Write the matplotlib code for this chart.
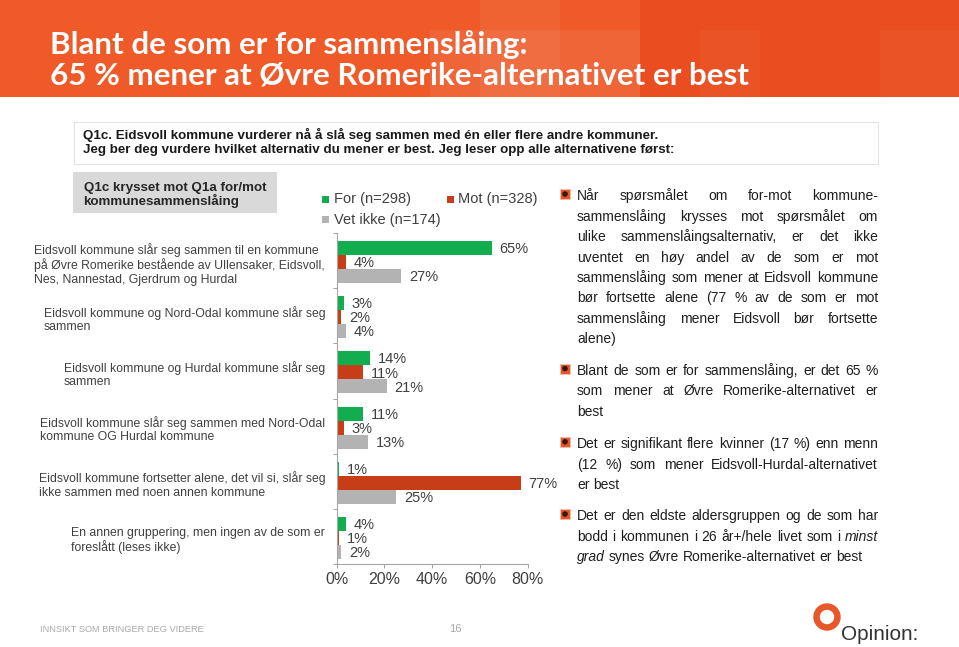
import matplotlib
matplotlib.use('Agg')
import matplotlib.pyplot as plt
from matplotlib.patches import Rectangle, Ellipse
import numpy as np

plt.rcParams['font.family'] = ['Liberation Sans', 'DejaVu Sans']

# ---------------- data ----------------
categories = [
    "Eidsvoll kommune slår seg sammen til en kommune\npå Øvre Romerike bestående av Ullensaker, Eidsvoll,\nNes, Nannestad, Gjerdrum og Hurdal",
    "Eidsvoll kommune og Nord-Odal kommune slår seg\nsammen",
    "Eidsvoll kommune og Hurdal kommune slår seg\nsammen",
    "Eidsvoll kommune slår seg sammen med Nord-Odal\nkommune OG Hurdal kommune",
    "Eidsvoll kommune fortsetter alene, det vil si, slår seg\nikke sammen med noen annen kommune",
    "En annen gruppering, men ingen av de som er\nforeslått (leses ikke)",
]
for_vals = [65, 3, 14, 11, 1, 4]
mot_vals = [4, 2, 11, 3, 77, 1]
vet_vals = [27, 4, 21, 13, 25, 2]
series_names = ["For (n=298)", "Mot (n=328)", "Vet ikke (n=174)"]
xtick_vals = [0, 20, 40, 60, 80]
xtick_labels = ["0%", "20%", "40%", "60%", "80%"]

title_lines = ["Blant de som er for sammenslåing:",
               "65 % mener at Øvre Romerike-alternativet er best"]
question_lines = ["Q1c. Eidsvoll kommune vurderer nå å slå seg sammen med én eller flere andre kommuner.",
                  "Jeg ber deg vurdere hvilket alternativ du mener er best. Jeg leser opp alle alternativene først:"]
box_lines = ["Q1c krysset mot Q1a for/mot", "kommunesammenslåing"]
bullets = [
    ["Når spørsmålet om for-mot kommune-",
     "sammenslåing krysses mot spørsmålet om",
     "ulike sammenslåingsalternativ, er det ikke",
     "uventet en høy andel av de som er mot",
     "sammenslåing som mener at Eidsvoll kommune",
     "bør fortsette alene (77 % av de som er mot",
     "sammenslåing mener Eidsvoll bør fortsette",
     "alene)"],
    ["Blant de som er for sammenslåing, er det 65 %",
     "som mener at Øvre Romerike-alternativet er",
     "best"],
    ["Det er signifikant flere kvinner (17 %) enn menn",
     "(12 %) som mener Eidsvoll-Hurdal-alternativet",
     "er best"],
    ["Det er den eldste aldersgruppen og de som har",
     "bodd i kommunen i 26 år+/hele livet som i *minst*",
     "*grad* synes Øvre Romerike-alternativet er best"],
]
footer_text = "INNSIKT SOM BRINGER DEG VIDERE"
page_no = "16"

# ---------------- styles ----------------
C_FOR, C_MOT, C_VET = "#12AD4F", "#C63D17", "#B3B3B3"
TXT = "#404040"
W, H = 959, 647
fig = plt.figure(figsize=(W / 100, H / 100), dpi=100)
fig.patch.set_facecolor("white")
renderer = fig.canvas.get_renderer()


def fx(x):
    return x / W


def fy(y):
    return 1 - y / H


def rect(x0, y0, x1, y1, **kw):
    r = Rectangle((fx(x0), fy(y1)), (x1 - x0) / W, (y1 - y0) / H,
                  transform=fig.transFigure, **kw)
    fig.patches.append(r)
    return r


def text_width(s, **kw):
    t = fig.text(0, 0, s, **kw)
    w = t.get_window_extent(renderer).width
    t.remove()
    return w


def fit_text(x, y, s, width, **kw):
    t = fig.text(fx(x), fy(y), s, fontsize=10, **kw)
    w = t.get_window_extent(renderer).width
    t.set_fontsize(10 * width / w)
    return t


def baseline_shift(t, b):
    """Pixel offset the Agg raster places a word's baseline at (keeps words level)."""
    try:
        from matplotlib.backends.backend_agg import get_hinting_flag
        font = renderer._prepare_font(t.get_fontproperties())
        font.set_text(t.get_text(), 0, flags=get_hinting_flag())
        desc = font.get_descent()
        _, hh = font.get_width_height()
        d = desc / 64.0
        Y = (hh - desc) / 64.0
        return round(b + d) - b - (hh // 64) + int(np.floor(Y))
    except Exception:
        return 0


# ---------------- header ----------------
rect(0, 0, 959, 97, color="#EF5A28", lw=0, zorder=0)
rect(640, 0, 959, 97, color="#EA4E20", lw=0, zorder=0)
rect(430, 30, 640, 97, color="white", alpha=0.07, lw=0, zorder=0.5)
rect(480, 0, 560, 97, color="white", alpha=0.05, lw=0, zorder=0.5)
rect(700, 30, 760, 97, color="white", alpha=0.03, lw=0, zorder=0.5)
rect(880, 30, 959, 97, color="white", alpha=0.03, lw=0, zorder=0.5)

t2 = fit_text(50, 84, title_lines[1], 702, color="white", weight="bold",
              va="baseline", family=["Lato", "DejaVu Sans"], zorder=3)
fig.text(fx(50), fy(54), title_lines[0], fontsize=t2.get_fontsize(), color="white",
         weight="bold", va="baseline", family=["Lato", "DejaVu Sans"], zorder=3)

# ---------------- question box ----------------
rect(74, 122.5, 878, 164, facecolor="white", edgecolor="#E3E3E3", lw=0.8, zorder=1)
q1 = fit_text(83, 139, question_lines[0], 578, weight="bold", color="#1A1A1A", va="baseline", zorder=2)
fig.text(fx(83), fy(153), question_lines[1], fontsize=q1.get_fontsize(), weight="bold",
         color="#1A1A1A", va="baseline", zorder=2)

# gray box
rect(73, 172, 277, 213, facecolor="#D9D9D9", lw=0, zorder=1)
b1 = fit_text(83.5, 190.5, box_lines[0], 183, weight="bold", color="#262626", va="baseline", zorder=2)
fig.text(fx(83.5), fy(205.5), box_lines[1], fontsize=b1.get_fontsize(), weight="bold",
         color="#262626", va="baseline", zorder=2)

# ---------------- chart ----------------
ax_l, ax_r, ax_t, ax_b = 336.7, 527.7, 233, 564
ax = fig.add_axes([fx(ax_l), fy(ax_b), (ax_r - ax_l) / W, (ax_b - ax_t) / H])
n = len(categories)
pos = np.arange(n)
h = 0.2545
base = 0.027
series = [for_vals, mot_vals, vet_vals]
colors = [C_FOR, C_MOT, C_VET]
for k, (vals, col, name) in enumerate(zip(series, colors, series_names)):
    yy = pos + base + (k - 1) * h
    ax.barh(yy, vals, height=h, color=col, label=name, zorder=2)
    for y, v in zip(yy, vals):
        ax.annotate(f"{v}%", (v, y), xytext=(5.5, -0.8), textcoords="offset points",
                    va="center", ha="left", fontsize=10.5, color=TXT)

ax.set_xlim(0, 80)
ax.set_ylim(n - 0.5, -0.5)
for s in ["top", "right"]:
    ax.spines[s].set_visible(False)
for s in ["left", "bottom"]:
    ax.spines[s].set_color("#A6A6A6")
    ax.spines[s].set_linewidth(0.8)
ax.set_xticks(xtick_vals)
ax.set_xticklabels(xtick_labels)
ax.tick_params(axis="x", length=3, color="#A6A6A6", labelsize=11.5, labelcolor=TXT, pad=3)
ax.set_yticks(np.arange(-0.5, n, 1.0))
ax.set_yticklabels([])
ax.tick_params(axis="y", which="major", length=3, color="#A6A6A6")
ax.set_yticks(pos + 0.03, minor=True)
ax.set_yticklabels(categories, minor=True)
ax.tick_params(axis="y", which="minor", length=0, pad=8.3, labelsize=8.8, labelcolor=TXT)
for t in ax.get_yticklabels(minor=True):
    t.set_multialignment("left")
    t.set_linespacing(1.13)
ax.set_facecolor("none")

# legend (manual)
leg_items = [(325, 199, 334, C_FOR, series_names[0]),
             (450.5, 199, 458, C_MOT, series_names[1]),
             (325, 219.5, 334, C_VET, series_names[2])]
for cx, cy, tx, col, name in leg_items:
    rect(cx - 3.5, cy - 3.5, cx + 3.5, cy + 3.5, color=col, lw=0, zorder=2)
    fig.text(fx(tx), fy(cy), name, fontsize=10.5, color=TXT, va="center", ha="left")

# ---------------- right bullets (justified, word by word) ----------------
BX0, BX1 = 577, 878
FS = 10
w_space = text_width("a a", fontsize=FS) - text_width("aa", fontsize=FS)

bullet_baselines = [200.5, 375.0, 448.3, 520.5]
LS = 20.4
for para, y0 in zip(bullets, bullet_baselines):
    iy = y0 - 6.5
    rect(560, iy - 5, 570, iy + 5, facecolor="#E5562A", edgecolor="#F4C0A8", lw=0.7, zorder=2)
    fig.patches.append(Ellipse((fx(565), fy(iy)), 4.2 / W, 4.2 / H, transform=fig.transFigure,
                               color="#3A160A", zorder=3))
    for li, line in enumerate(para):
        yb = int(round(y0 + li * LS))
        words = line.split(" ")
        objs = []
        for wd in words:
            ital = wd.startswith("*")
            objs.append(fig.text(fx(BX0), fy(yb), wd.strip("*"), fontsize=FS, color="#1E1E1E",
                                 style="italic" if ital else "normal", va="baseline"))
        widths = [o.get_window_extent(renderer).width for o in objs]
        if li == len(para) - 1 or len(objs) == 1:
            gap = w_space
        else:
            gap = (BX1 - BX0 - sum(widths)) / (len(objs) - 1)
        x = BX0
        for o, wdt in zip(objs, widths):
            eps = baseline_shift(o, yb)
            o.set_position((fx(x), fy(yb - eps)))
            x += wdt + gap

# ---------------- footer ----------------
fit_text(40, 629, footer_text, 165, color="#A8A8A8", va="center",
         family=["Liberation Sans Narrow", "Liberation Sans"])
fig.text(fx(455), fy(629), page_no, fontsize=8, color="#A8A8A8", va="center", ha="center")
# logo
fig.patches.append(Ellipse((fx(827), fy(617)), 26 / W, 26 / H, transform=fig.transFigure,
                           color="#E8572A", zorder=2))
fig.patches.append(Ellipse((fx(827), fy(617)), 13 / W, 13 / H, transform=fig.transFigure,
                           color="white", zorder=3))
fit_text(841, 640, "Opinion:", 77, color="#333333", va="baseline", zorder=4)

fig.savefig("out.png", dpi=100)
